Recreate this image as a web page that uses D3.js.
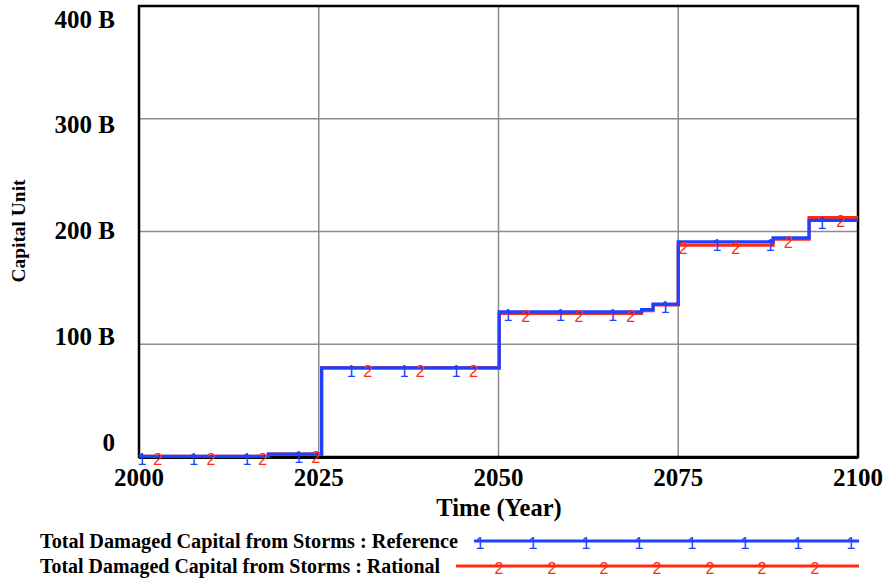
<!DOCTYPE html>
<html><head><meta charset="utf-8">
<script src="https://cdn.jsdelivr.net/npm/d3@7"></script>
<style>body{margin:0;background:#fff}svg{display:block}</style>
</head><body><svg id="c" width="886" height="584"></svg>
<script>
// Step data: [year, value in billions] change points
const refYears = [2000, 2018, 2025.4, 2050.1, 2069.9, 2071.5, 2075, 2088.2, 2093.2, 2100];
const refValues = [0.5, 2.5, 79, 128.8, 130.8, 135.5, 190.8, 194.3, 209.8, 209.8];
const ratYears = [2000, 2018, 2025.4, 2050.1, 2069.9, 2071.5, 2075, 2088.2, 2093.2, 2100];
const ratValues = [0.5, 2.5, 79, 127.4, 129.8, 134.8, 187.8, 193.2, 212.4, 212.4];
const refMarkerYears = [2000.4, 2007.6, 2015.0, 2022.2, 2029.5, 2036.9, 2044.1, 2051.3, 2058.6, 2065.9, 2073.2, 2080.4, 2087.8, 2095.0];
const ratMarkerYears = [2002.6, 2010.0, 2017.2, 2024.6, 2031.8, 2039.1, 2046.5, 2053.8, 2061.2, 2068.4, 2075.7, 2083.0, 2090.3, 2097.6];
const xTicks = [2000, 2025, 2050, 2075, 2100];
const yTicks = [0, 100, 200, 300, 400];
const yTickLabels = ["0", "100 B", "200 B", "300 B", "400 B"];
const legendLabels = ["Total Damaged Capital from Storms : Reference", "Total Damaged Capital from Storms : Rational"];

const BLUE = "#1e40ff", RED = "#ff2a10", GRID = "#8c8c8c";
const serif = "'Liberation Serif','Times New Roman',serif";
const sans = "'Liberation Sans',Arial,sans-serif";

const svg = d3.select("#c");
const x = d3.scaleLinear().domain([2000, 2100]).range([139, 858]);
const y = d3.scaleLinear().domain([0, 400]).range([457, 6]);
const yLab = d3.scaleLinear().domain([0, 400]).range([442, 19]);

// grid
svg.append("g").selectAll("line").data(xTicks.slice(1, -1)).join("line")
  .attr("x1", d => x(d)).attr("x2", d => x(d)).attr("y1", y(400)).attr("y2", y(0))
  .attr("stroke", GRID).attr("stroke-width", 1.5);
svg.append("g").selectAll("line").data(yTicks.slice(1, -1)).join("line")
  .attr("y1", d => y(d)).attr("y2", d => y(d)).attr("x1", x(2000)).attr("x2", x(2100))
  .attr("stroke", GRID).attr("stroke-width", 1.5);

// frame
svg.append("rect").attr("x", x(2000)).attr("y", y(400)).attr("width", x(2100) - x(2000)).attr("height", y(0) - y(400))
  .attr("fill", "none").attr("stroke", "#000").attr("stroke-width", 2.5);
svg.append("line").attr("x1", x(2000)).attr("x2", x(2100)).attr("y1", y(0) + 0.5).attr("y2", y(0) + 0.5)
  .attr("stroke", "#000").attr("stroke-width", 3);

// tick labels
svg.append("g").selectAll("text").data(yTicks).join("text")
  .attr("x", 115).attr("y", d => yLab(d)).attr("text-anchor", "end").attr("dominant-baseline", "central")
  .attr("font-family", serif).attr("font-weight", "bold").attr("font-size", 25)
  .text((d, i) => yTickLabels[i]);
svg.append("g").selectAll("text").data(xTicks).join("text")
  .attr("x", d => x(d)).attr("y", 486).attr("text-anchor", "middle")
  .attr("font-family", serif).attr("font-weight", "bold").attr("font-size", 25)
  .text(d => d);

svg.append("text").attr("x", 499).attr("y", 516).attr("text-anchor", "middle")
  .attr("font-family", serif).attr("font-weight", "bold").attr("font-size", 24.5).text("Time (Year)");
svg.append("text").attr("transform", "translate(25,231) rotate(-90)").attr("text-anchor", "middle")
  .attr("font-family", serif).attr("font-weight", "bold").attr("font-size", 18)
  .attr("textLength", 103).attr("lengthAdjust", "spacingAndGlyphs").text("Capital Unit");

// series
function stepData(ys, vs) { return ys.map((t, i) => [t, vs[i]]); }
function valueAt(ys, vs, t) { let v = vs[0]; for (let i = 0; i < ys.length; i++) if (ys[i] <= t) v = vs[i]; return v; }
const line = d3.line().x(d => x(d[0])).y(d => y(d[1])).curve(d3.curveStepAfter);

const series = [
  {ys: ratYears, vs: ratValues, color: RED, mk: "2", my: ratMarkerYears},
  {ys: refYears, vs: refValues, color: BLUE, mk: "1", my: refMarkerYears}
];
series.forEach(s => {
  svg.append("path").datum(stepData(s.ys, s.vs)).attr("d", line)
    .attr("fill", "none").attr("stroke", s.color).attr("stroke-width", 3.2);
});
series.forEach(s => {
  svg.append("g").selectAll("text").data(s.my).join("text")
    .attr("x", d => x(d)).attr("y", d => y(valueAt(s.ys, s.vs, d)) + 9)
    .attr("text-anchor", "middle").attr("font-family", sans).attr("font-size", 16)
    .attr("fill", s.color).text(s.mk);
});

// legend
const legY = [541, 566];
const legStart = [474, 456];
const legTextLen = [418, 400];
const legMarkers = [[480, 533, 586, 639, 692, 745, 798, 851], [499, 552, 604, 657, 710, 762, 815]];
const legColors = [BLUE, RED];
const legMk = ["1", "2"];
legendLabels.forEach((lab, i) => {
  svg.append("text").attr("x", 40).attr("y", legY[i] + 7)
    .attr("font-family", serif).attr("font-weight", "bold").attr("font-size", 20)
    .attr("textLength", legTextLen[i]).attr("lengthAdjust", "spacingAndGlyphs").text(lab);
  svg.append("line").attr("x1", legStart[i]).attr("x2", 859).attr("y1", legY[i]).attr("y2", legY[i])
    .attr("stroke", legColors[i]).attr("stroke-width", 3);
  svg.append("g").selectAll("text").data(legMarkers[i]).join("text")
    .attr("x", d => d).attr("y", legY[i] + 8).attr("text-anchor", "middle")
    .attr("font-family", sans).attr("font-size", 16).attr("fill", legColors[i]).text(legMk[i]);
});
</script></body></html>
